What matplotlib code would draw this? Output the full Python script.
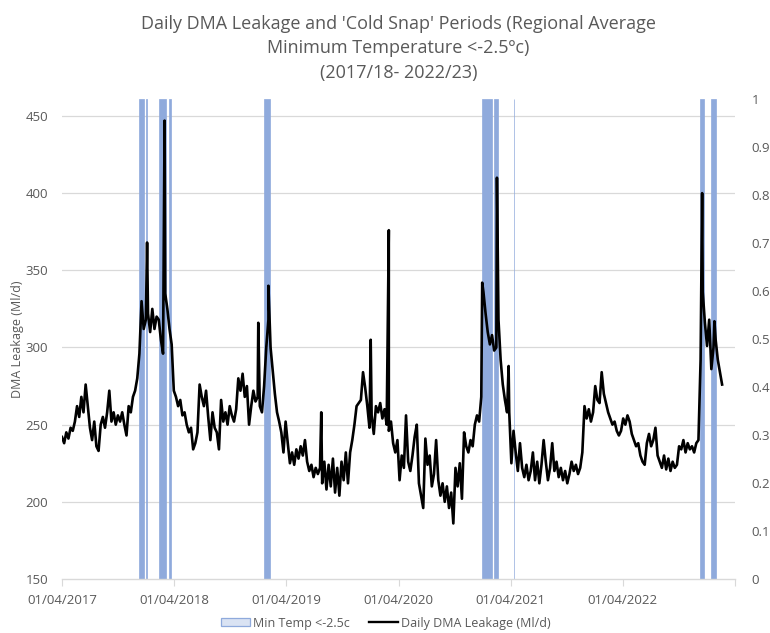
import numpy as np
import pandas as pd
import matplotlib
matplotlib.use('Agg')
import matplotlib.pyplot as plt
import matplotlib.dates as mdates
from matplotlib.patches import Patch
from matplotlib.lines import Line2D
from matplotlib.ticker import FixedLocator, FixedFormatter

plt.rcParams['font.family'] = ['Open Sans', 'DejaVu Sans']

# ---------------- data ----------------
weekly_start = '2017-04-01'   # weekly readings, 7 days apart
leak_2017_18 = [242, 238, 245, 241, 248, 246, 252, 262, 255, 268, 258, 276, 262, 248, 240, 252,
                236, 233, 250, 255, 248, 258, 272, 252, 258, 250, 256, 252, 258, 250, 243, 262,
                258, 268, 272, 280, 296, 330, 312, 318, 322, 310, 325, 312, 320, 318, 305, 296,
                335, 325, 312, 302]
leak_2018_19 = [272, 268, 262, 266, 256, 258, 250, 245, 248, 234, 238, 245, 276, 268, 262, 272,
                255, 240, 258, 248, 245, 234, 266, 252, 258, 250, 262, 256, 252, 260, 280, 272,
                283, 268, 275, 250, 262, 272, 265, 268, 262, 258, 275, 300, 318, 300, 285, 270,
                258, 252, 245, 232]
leak_2019_20 = [252, 238, 225, 232, 224, 234, 228, 236, 230, 240, 226, 220, 224, 216, 222, 218,
                222, 212, 226, 208, 224, 210, 228, 206, 222, 204, 226, 214, 232, 212, 232, 240,
                250, 262, 264, 266, 284, 274, 262, 248, 256, 244, 262, 258, 264, 254, 260, 250,
                246, 252, 238, 232]
leak_2020_21 = [240, 214, 230, 222, 256, 226, 220, 230, 242, 250, 212, 204, 196, 241, 224, 230,
                210, 218, 240, 214, 204, 212, 200, 210, 196, 206, 186, 222, 210, 225, 202, 245,
                236, 232, 240, 236, 250, 256, 252, 268, 336, 322, 310, 302, 308, 298, 300, 318,
                292, 276, 266, 258]
leak_2021_22 = [258, 225, 246, 232, 220, 238, 222, 216, 224, 214, 220, 232, 214, 226, 212, 224,
                240, 226, 214, 222, 238, 220, 226, 216, 222, 214, 220, 212, 218, 226, 220, 224,
                218, 222, 232, 262, 254, 260, 252, 258, 275, 266, 264, 284, 270, 264, 258, 254,
                250, 252, 246, 243]
leak_2022_23 = [246, 254, 250, 256, 252, 244, 240, 236, 238, 230, 226, 224, 238, 244, 236, 240,
                248, 230, 226, 222, 230, 221, 228, 220, 226, 222, 224, 236, 234, 240, 232, 238,
                234, 236, 232, 238, 240, 292, 336, 316, 301, 318, 286, 300, 305, 292, 284, 276]

spike_dates = ['2018-01-03', '2018-03-01', '2018-12-31', '2019-02-02', '2019-07-24',
               '2020-01-01', '2020-02-29', '2020-12-29', '2021-02-15', '2021-03-25',
               '2022-12-15', '2023-01-24']
spike_values = [368, 447, 316, 340, 258, 305, 376, 342, 410, 288, 400, 317]

cold_start = ['2017-12-09', '2017-12-29', '2018-02-11', '2018-03-16', '2019-01-17',
              '2020-12-27', '2021-02-04', '2021-04-10', '2022-12-07', '2023-01-14']
cold_end = ['2017-12-23', '2018-01-03', '2018-03-03', '2018-03-20', '2019-02-07',
            '2021-01-28', '2021-02-17', '2021-04-11', '2022-12-20', '2023-01-27']
cold_flag = [1, 1, 1, 1, 1, 1, 1, 1, 1, 1]

left_ticks = [150, 200, 250, 300, 350, 400, 450]
right_ticks = [0, 0.1, 0.2, 0.3, 0.4, 0.5, 0.6, 0.7, 0.8, 0.9, 1]
x_tick_dates = ['2017-04-01', '2018-04-01', '2019-04-01', '2020-04-01',
                '2021-04-01', '2022-04-01', '2023-04-01']
x_tick_labels = ['01/04/2017', '01/04/2018', '01/04/2019', '01/04/2020',
                 '01/04/2021', '01/04/2022', '']

# ---------------- build series ----------------
weekly_values = leak_2017_18 + leak_2018_19 + leak_2019_20 + leak_2020_21 + leak_2021_22 + leak_2022_23
weekly_dates = pd.date_range(weekly_start, periods=len(weekly_values), freq='7D')
series = pd.concat([pd.Series(weekly_values, index=weekly_dates),
                    pd.Series(spike_values, index=pd.to_datetime(spike_dates))]).sort_index()
xs = mdates.date2num(series.index.to_pydatetime())

grey = '#595959'
bar_col = '#8FAADC'
grid_col = '#D9D9D9'

W, H = 770, 633
fig = plt.figure(figsize=(W / 100, H / 100), dpi=100)
L, R, T, B = 62, 735, 99, 579
ax2 = fig.add_axes([L / W, 1 - B / H, (R - L) / W, (B - T) / H])   # bars (secondary axis, behind)
ax = fig.add_axes([L / W, 1 - B / H, (R - L) / W, (B - T) / H], sharex=ax2)  # line on top
ax.patch.set_visible(False)

# cold-snap bars on the secondary axis
cs = mdates.date2num(pd.to_datetime(cold_start).to_pydatetime())
ce = mdates.date2num(pd.to_datetime(cold_end).to_pydatetime())
ax2.bar(cs, cold_flag, width=ce - cs + 1, align='edge', color=bar_col,
        edgecolor=bar_col, linewidth=0.5, zorder=2)
ax2.set_ylim(0, 1)

# leakage line
ymin, ymax = 150, 461
ax.plot(xs, series.values, color='black', lw=1.9, zorder=3)
ax.set_ylim(ymin, ymax)

xt = mdates.date2num(pd.to_datetime(x_tick_dates).to_pydatetime())
ax2.set_xlim(xt[0], xt[-1])

# gridlines drawn on the back axis (under the bars), at left-axis tick values
grid_pos = [(v - ymin) / (ymax - ymin) for v in left_ticks]
ax2.yaxis.set_minor_locator(FixedLocator(grid_pos))
ax2.yaxis.grid(True, which='minor', color=grid_col, lw=0.9, zorder=0)
ax2.yaxis.grid(False, which='major')
ax2.set_axisbelow(True)
ax2.tick_params(axis='y', which='minor', length=0, left=False, right=False)

# right axis ticks / labels
ax2.yaxis.tick_right()
ax2.set_yticks(right_ticks)
ax2.set_yticklabels(['{:g}'.format(v) for v in right_ticks])
ax2.tick_params(axis='y', which='major', length=0, labelsize=9.5, labelcolor=grey, pad=12)

# left axis
ax.set_yticks(left_ticks)
ax.tick_params(axis='y', length=0, labelsize=9.5, labelcolor=grey, pad=10)
ax.set_ylabel('DMA Leakage (Ml/d)', fontsize=9, color=grey, labelpad=1)

# x axis
ax.xaxis.set_major_locator(FixedLocator(xt))
ax.xaxis.set_major_formatter(FixedFormatter(x_tick_labels))
ax.tick_params(axis='x', length=5, color=grid_col, labelsize=9.5, labelcolor=grey, pad=6)
ax2.tick_params(axis='x', length=0, labelbottom=False)

for a in (ax, ax2):
    for s in ('top', 'right', 'left'):
        a.spines[s].set_visible(False)
ax2.spines['bottom'].set_visible(False)
ax.spines['bottom'].set_color(grid_col)
ax.spines['bottom'].set_linewidth(1.0)

fig.text(0.5 * (L + R) / W, 1 - 15 / H,
         "Daily DMA Leakage and 'Cold Snap' Periods (Regional Average\nMinimum Temperature <-2.5ºc)\n(2017/18- 2022/23)",
         ha='center', va='top', fontsize=13, color=grey, linespacing=1.45)

handles = [Patch(facecolor='#DAE3F3', edgecolor=bar_col, linewidth=0.9),
           Line2D([0], [0], color='black', lw=1.7)]
fig.legend(handles, ['Min Temp <-2.5c', 'Daily DMA Leakage (Ml/d)'], loc='center',
           bbox_to_anchor=(386 / W, 1 - 623 / H), ncol=2, frameon=False, fontsize=9,
           labelcolor=grey, handlelength=2.3, handleheight=0.6, columnspacing=1.5,
           handletextpad=0.3)

fig.savefig('out.png', dpi=100)
